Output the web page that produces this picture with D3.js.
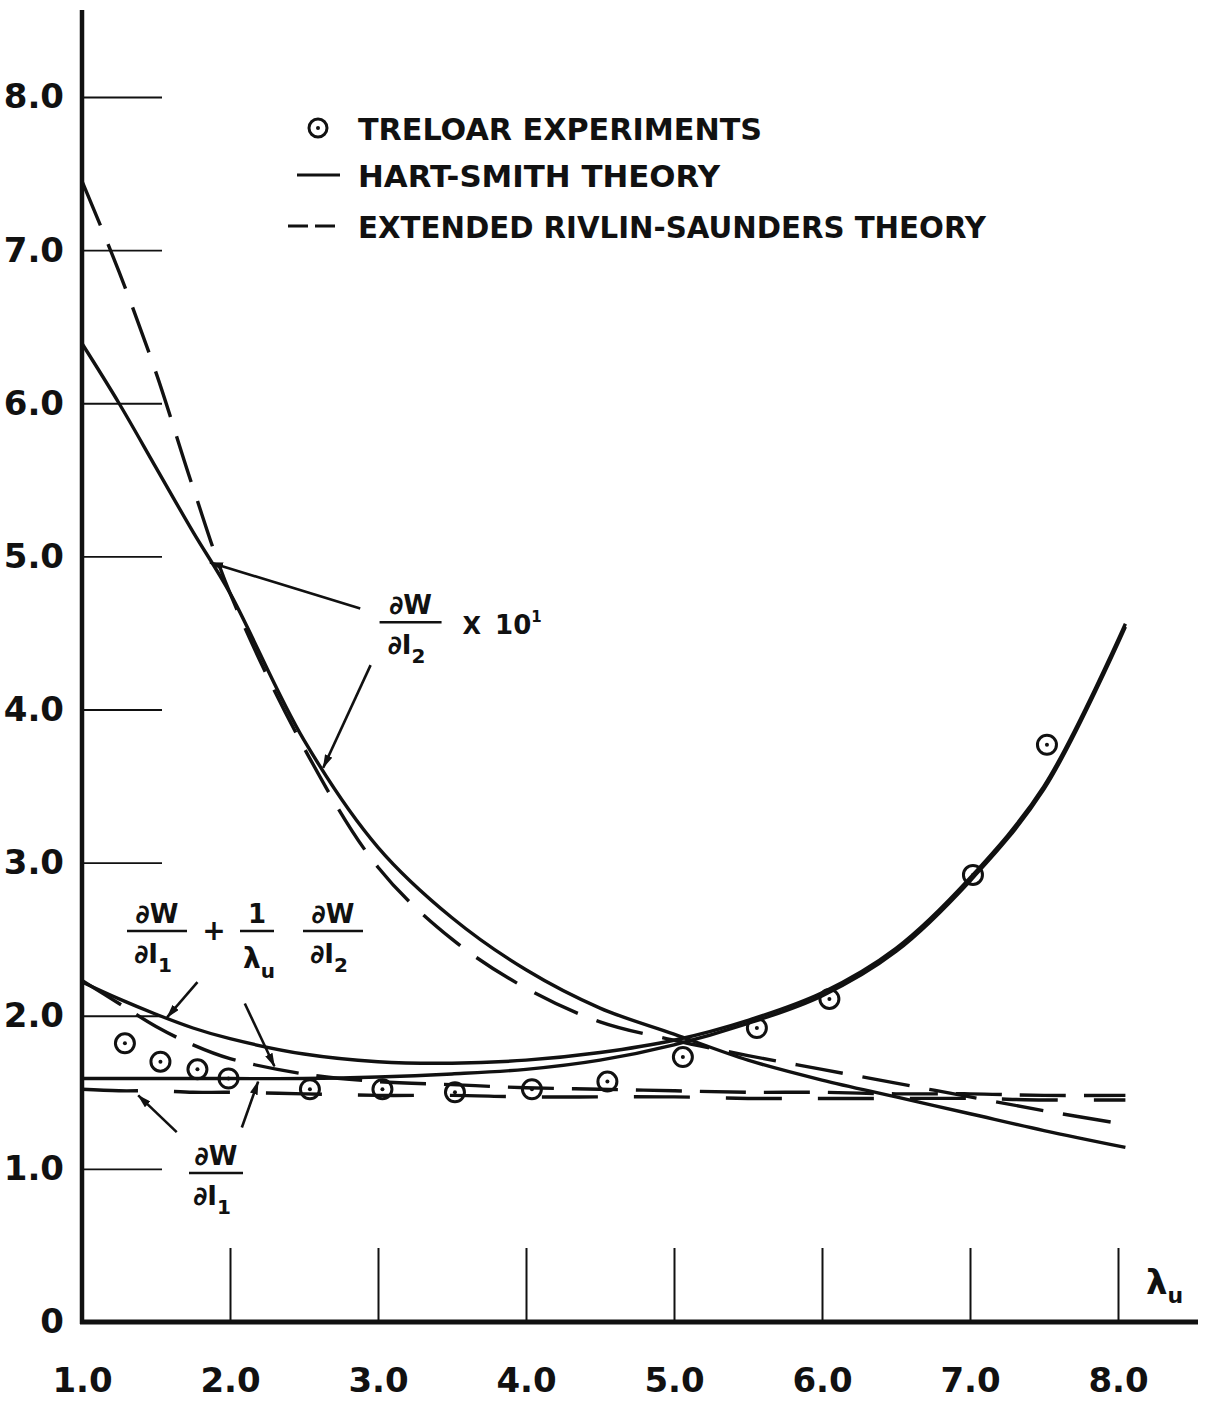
<!DOCTYPE html>
<meta charset="utf-8">
<script src="https://d3js.org/d3.v7.min.js"></script>
<style>
  body { margin: 0; background: #fff; }
  text { font-family: "DejaVu Sans", sans-serif; font-weight: bold; fill: #111; }
</style>
<body>
<div id="chart"></div>
<script>
// stretch ratio samples used for all theory curves
const lambda = [1.0, 1.25, 1.5, 1.75, 2.0, 2.5, 3.0, 3.5, 4.0, 4.5, 5.0, 5.5, 6.0, 6.5, 7.0, 7.5, 8.05];

// Hart-Smith theory (solid)
const hsDI2x10 = [6.39, 6.0, 5.58, 5.16, 4.76, 3.8, 3.1, 2.64, 2.3, 2.05, 1.88, 1.71, 1.58, 1.47, 1.36, 1.25, 1.14];
const hsSum    = [2.22, 2.11, 2.01, 1.92, 1.85, 1.75, 1.70, 1.69, 1.71, 1.76, 1.84, 1.97, 2.15, 2.44, 2.9, 3.5, 4.56];
const hsDI1    = [1.59, 1.59, 1.59, 1.59, 1.59, 1.59, 1.6, 1.62, 1.65, 1.71, 1.81, 1.95, 2.13, 2.42, 2.88, 3.48, 4.54];

// extended Rivlin-Saunders theory (dashed)
const rsDI2x10 = [7.45, 6.86, 6.2, 5.45, 4.76, 3.75, 2.97, 2.5, 2.18, 1.96, 1.84, 1.74, 1.65, 1.56, 1.47, 1.38, 1.29];
const rsSum    = [2.23, 2.08, 1.93, 1.81, 1.72, 1.62, 1.57, 1.55, 1.53, 1.52, 1.51, 1.5, 1.5, 1.49, 1.49, 1.48, 1.48];
const rsDI1    = [1.52, 1.51, 1.51, 1.5, 1.5, 1.49, 1.48, 1.48, 1.47, 1.47, 1.47, 1.46, 1.46, 1.46, 1.46, 1.45, 1.45];

// Treloar experiments
const treloarLambda = [1.29, 1.53, 1.78, 1.99, 2.54, 3.03, 3.52, 4.04, 4.55, 5.06, 5.56, 6.05, 7.02, 7.52];
const treloarValue  = [1.82, 1.70, 1.65, 1.59, 1.52, 1.52, 1.50, 1.52, 1.57, 1.73, 1.92, 2.11, 2.92, 3.77];

const xTicks = [1, 2, 3, 4, 5, 6, 7, 8];
const yTicks = [0, 1, 2, 3, 4, 5, 6, 7, 8];

const width = 1206, height = 1408;

const svg = d3.select("#chart").append("svg")
  .attr("width", width)
  .attr("height", height);

const x = d3.scaleLinear().domain([1, 8]).range([82, 1118]);
const y = d3.scaleLinear().domain([0, 8]).range([1322, 97]);

svg.append("defs").append("marker")
  .attr("id", "head")
  .attr("viewBox", "0 0 14 8")
  .attr("refX", 13).attr("refY", 4)
  .attr("markerWidth", 14).attr("markerHeight", 8)
  .attr("markerUnits", "userSpaceOnUse")
  .attr("orient", "auto")
  .append("path").attr("d", "M0,0 L14,4 L0,8 Z").attr("fill", "#111");

// axes
const yAxis = d3.axisLeft(y)
  .tickValues(yTicks)
  .tickSize(-80)
  .tickPadding(18)
  .tickFormat(d => d === 0 ? "0" : d.toFixed(1));

const gy = svg.append("g").attr("transform", "translate(82,0)").call(yAxis);
gy.select(".domain").remove();
gy.selectAll(".tick line").attr("stroke", "#111").attr("stroke-width", 1.8);
gy.selectAll(".tick text").style("font-size", "34px").attr("fill", "#111");

const xAxis = d3.axisBottom(x)
  .tickValues(xTicks)
  .tickSize(-74)
  .tickPadding(46)
  .tickFormat(d => d.toFixed(1));

const gx = svg.append("g").attr("transform", "translate(0,1322)").call(xAxis);
gx.select(".domain").remove();
gx.selectAll(".tick line").attr("stroke", "#111").attr("stroke-width", 2);
gx.selectAll(".tick text").style("font-size", "34px").attr("fill", "#111");

svg.append("line")
  .attr("x1", x(1)).attr("x2", x(1))
  .attr("y1", 10).attr("y2", y(0) + 2)
  .attr("stroke", "#111").attr("stroke-width", 4.5);
svg.append("line")
  .attr("x1", x(1) - 2).attr("x2", 1198)
  .attr("y1", y(0)).attr("y2", y(0))
  .attr("stroke", "#111").attr("stroke-width", 5);

const xl = svg.append("text").attr("x", 1146).attr("y", 1294).style("font-size", "34px");
xl.append("tspan").text("λ");
xl.append("tspan").attr("dy", 9).style("font-size", "22px").text("u");

// curves
const line = d3.line()
  .x(d => x(d[0]))
  .y(d => y(d[1]))
  .curve(d3.curveCatmullRom.alpha(0.5));

const curves = [
  { values: hsDI2x10, dash: null },
  { values: hsSum, dash: null },
  { values: hsDI1, dash: null },
  { values: rsDI2x10, dash: "48,20" },
  { values: rsSum, dash: "46,18" },
  { values: rsDI1, dash: "56,36" }
];

svg.append("g").selectAll("path")
  .data(curves)
  .join("path")
  .attr("d", c => line(lambda.map((l, i) => [l, c.values[i]])))
  .attr("fill", "none")
  .attr("stroke", "#111")
  .attr("stroke-width", 3.4)
  .attr("stroke-dasharray", c => c.dash);

// experiment points
const pts = svg.append("g").selectAll("g")
  .data(treloarLambda.map((l, i) => [l, treloarValue[i]]))
  .join("g")
  .attr("transform", d => `translate(${x(d[0])},${y(d[1])})`);
pts.append("circle").attr("r", 9.5).attr("fill", "none").attr("stroke", "#111").attr("stroke-width", 3);
pts.append("circle").attr("r", 2).attr("fill", "#111");

// legend
const lg = svg.append("g");
lg.append("circle").attr("cx", 318).attr("cy", 128).attr("r", 9).attr("fill", "none").attr("stroke", "#111").attr("stroke-width", 3);
lg.append("circle").attr("cx", 318).attr("cy", 128).attr("r", 2).attr("fill", "#111");
lg.append("line").attr("x1", 297).attr("x2", 340).attr("y1", 175).attr("y2", 175).attr("stroke", "#111").attr("stroke-width", 3);
lg.append("line").attr("x1", 288).attr("x2", 341).attr("y1", 226).attr("y2", 226)
  .attr("stroke", "#111").attr("stroke-width", 3).attr("stroke-dasharray", "20,7");
const legendText = [
  ["TRELOAR EXPERIMENTS", 140, 404],
  ["HART-SMITH THEORY", 187, 362],
  ["EXTENDED RIVLIN-SAUNDERS THEORY", 238, 628]
];
lg.selectAll("text.lt").data(legendText).join("text")
  .attr("class", "lt")
  .attr("x", 358).attr("y", d => d[1])
  .attr("textLength", d => d[2]).attr("lengthAdjust", "spacingAndGlyphs")
  .style("font-size", "31px")
  .text(d => d[0]);

// annotations
function arrow(l0, v0, l1, v1) {
  svg.append("line")
    .attr("x1", x(l0)).attr("y1", y(v0))
    .attr("x2", x(l1)).attr("y2", y(v1))
    .attr("stroke", "#111").attr("stroke-width", 2.6)
    .attr("marker-end", "url(#head)");
}

// fraction: numerator, denominator main text and subscript, centred at cx, bar at by
function frac(g, cx, by, halfW, num, den, sub, subSize) {
  g.append("text").attr("x", cx).attr("y", by - 8).attr("text-anchor", "middle")
    .style("font-size", "26px").text(num);
  g.append("line").attr("x1", cx - halfW).attr("x2", cx + halfW).attr("y1", by).attr("y2", by)
    .attr("stroke", "#111").attr("stroke-width", 2.6);
  const t = g.append("text").attr("x", cx - 4).attr("y", by + 32).attr("text-anchor", "middle")
    .style("font-size", "26px");
  t.append("tspan").text(den);
  t.append("tspan").attr("dy", 9).style("font-size", (subSize || 20) + "px").text(sub);
}

// dW/dI2 x 10^1
const ga = svg.append("g");
frac(ga, x(3.22), y(4.57), 31, "∂W", "∂I", "2");
const ta = ga.append("text").attr("x", x(3.22) + 52).attr("y", y(4.57) + 12).style("font-size", "24px");
ta.append("tspan").text("X");
ta.append("tspan").attr("dx", 14).style("font-size", "26px").text("10");
ta.append("tspan").attr("dy", -12).style("font-size", "15px").text("1");
arrow(2.88, 4.66, 1.865, 4.96);
arrow(2.95, 4.29, 2.63, 3.62);

// dW/dI1 + (1/λu) dW/dI2
const gb = svg.append("g");
frac(gb, 157, 931, 30, "∂W", "∂I", "1");
gb.append("text").attr("x", 214).attr("y", 940).attr("text-anchor", "middle").style("font-size", "28px").text("+");
gb.append("text").attr("x", 257).attr("y", 923).attr("text-anchor", "middle").style("font-size", "26px").text("1");
gb.append("line").attr("x1", 240).attr("x2", 274).attr("y1", 931).attr("y2", 931).attr("stroke", "#111").attr("stroke-width", 2.6);
const lu = gb.append("text").attr("x", 243).attr("y", 968).style("font-size", "28px");
lu.append("tspan").text("λ");
lu.append("tspan").attr("dy", 10).style("font-size", "20px").text("u");
frac(gb, 333, 931, 30, "∂W", "∂I", "2");
arrow(1.78, 2.22, 1.575, 1.99);
arrow(2.10, 2.08, 2.30, 1.67);

// dW/dI1
const gc = svg.append("g");
frac(gc, 216, 1173, 27, "∂W", "∂I", "1");
arrow(1.64, 1.24, 1.38, 1.48);
arrow(2.08, 1.27, 2.19, 1.57);
</script>
</body>
